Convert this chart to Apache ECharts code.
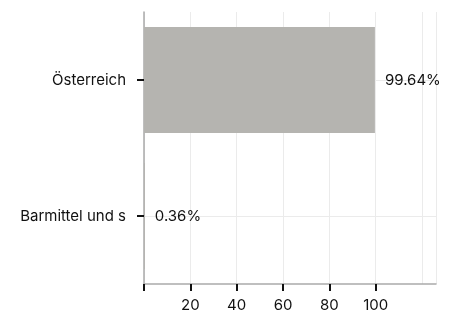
<!DOCTYPE html>
<html>
<head>
<meta charset="utf-8">
<script src="https://cdn.jsdelivr.net/npm/echarts@6/dist/echarts.min.js"></script>
<style>
  html, body { margin: 0; padding: 0; background: #fff; }
  #main { width: 454px; height: 313px; }
</style>
</head>
<body>
<div id="main"></div>
<script>
var categories = ['Österreich', 'Barmittel und s'];
var values = [99.64, 0.36];
var tickValues = [0, 20, 40, 60, 80, 100];
var labelValues = [20, 40, 60, 80, 100];

var myChart = echarts.init(document.getElementById('main'));

var font = 'Inter, "Noto Sans", sans-serif';

var option = {
    animation: false,
    grid: {
        left: 144,
        right: 18,
        top: 12,
        bottom: 29
    },
    xAxis: [
        {
            // gridlines + axis line
            type: 'value',
            min: 0,
            max: 126,
            interval: 20,
            axisLine: {show: true, onZero: false, lineStyle: {color: '#aaaaaa', width: 1.5}},
            axisTick: {show: false},
            axisLabel: {show: false},
            splitLine: {show: true, lineStyle: {color: '#ebebeb', width: 1}}
        },
        {
            // ticks + labels
            type: 'value',
            position: 'bottom',
            min: 0,
            max: 126,
            interval: 20,
            axisLine: {show: false, onZero: false},
            axisTick: {
                show: true,
                length: 7,
                customValues: tickValues,
                lineStyle: {color: '#111', width: 2}
            },
            axisLabel: {
                show: true,
                margin: 14,
                customValues: labelValues,
                color: '#111',
                fontSize: 15,
                fontFamily: font
            },
            splitLine: {show: false}
        }
    ],
    yAxis: {
        type: 'category',
        data: categories,
        inverse: true,
        axisLine: {show: true, lineStyle: {color: '#aaaaaa', width: 1.5}},
        axisTick: {show: true, alignWithLabel: true, length: 7, lineStyle: {color: '#111', width: 2}},
        axisLabel: {
            margin: 18,
            color: '#111',
            fontSize: 15,
            fontFamily: font
        },
        splitLine: {show: false}
    },
    series: [
        {
            type: 'bar',
            z: 2,
            data: values,
            barCategoryGap: '22%',
            itemStyle: {color: '#b5b4b0'},
            label: {
                show: true,
                position: 'right',
                distance: 10,
                color: '#111',
                fontSize: 15,
                fontFamily: font,
                formatter: function (p) {
                    return p.value.toFixed(2) + '%';
                }
            },
            markLine: {
                z: 1,
                silent: true,
                symbol: 'none',
                label: {show: false},
                lineStyle: {color: '#ebebeb', type: 'solid', width: 1},
                data: categories.map(function (c) { return {yAxis: c}; })
            }
        }
    ]
};
myChart.setOption(option);
</script>
</body>
</html>
